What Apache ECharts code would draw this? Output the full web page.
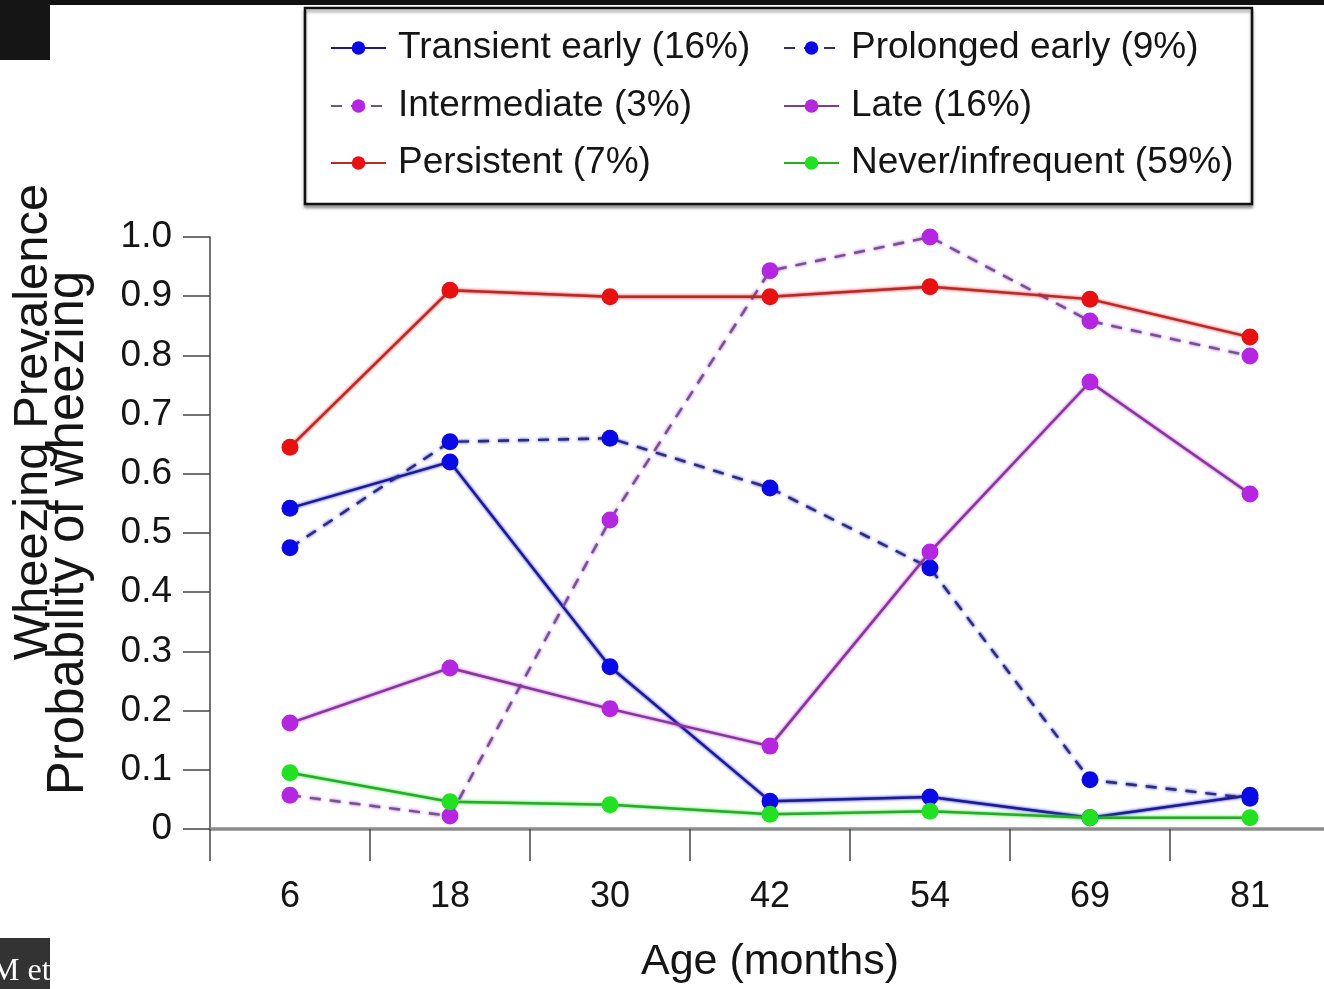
<!DOCTYPE html>
<html>
<head>
<meta charset="utf-8">
<title>Wheezing phenotypes by age</title>
<script src="https://cdn.jsdelivr.net/npm/echarts@6/dist/echarts.min.js"></script>
<style>
  html, body { margin: 0; padding: 0; background: #fff; overflow: hidden; }
  #chart { width: 1324px; height: 989px; }
</style>
</head>
<body>
<div id="chart"></div>
<script>
// Age at each survey (months)
const categories = ['6', '18', '30', '42', '54', '69', '81'];

// Probability of wheezing for each phenotype at each age
const transientEarly = [0.542, 0.620, 0.274, 0.047, 0.054, 0.019, 0.057];
const prolongedEarly = [0.475, 0.654, 0.660, 0.576, 0.441, 0.083, 0.052];
const intermediate   = [0.057, 0.022, 0.522, 0.943, 1.000, 0.858, 0.799];
const late           = [0.179, 0.272, 0.203, 0.140, 0.468, 0.755, 0.566];
const persistent     = [0.645, 0.910, 0.899, 0.899, 0.916, 0.895, 0.831];
const never          = [0.095, 0.046, 0.041, 0.025, 0.030, 0.019, 0.019];

const seriesNames = [
  'Transient early (16%)',
  'Prolonged early (9%)',
  'Intermediate (3%)',
  'Late (16%)',
  'Persistent (7%)',
  'Never/infrequent (59%)'
];

const SANS = "'Liberation Sans', Arial, Helvetica, sans-serif";

function makeSeries(name, data, lineColor, markColor, dashed) {
  return {
    name: name,
    type: 'line',
    data: data,
    clip: false,
    symbol: 'circle',
    symbolSize: 17,
    itemStyle: { color: markColor },
    lineStyle: {
      color: lineColor,
      width: 2.4,
      type: dashed ? [11, 9] : 'solid',
      shadowColor: markColor,
      shadowBlur: 3
    },
    emphasis: { disabled: true },
    animation: false
  };
}

// Legend laid out as two columns of three entries inside one framed box
const legendCols = [330, 783];
const legendRows = [26, 84, 141];
const legendSlots = [
  [0, 0], [1, 0],
  [0, 1], [1, 1],
  [0, 2], [1, 2]
];
const legends = seriesNames.map(function (name, i) {
  const slot = legendSlots[i];
  return {
    data: [name],
    left: legendCols[slot[0]],
    top: legendRows[slot[1]],
    padding: 0,
    itemWidth: 55,
    itemHeight: 17,
    z: 10,
    selectedMode: false,
    textStyle: {
      fontFamily: SANS,
      fontSize: 37,
      lineHeight: 44,
      color: '#151515',
      padding: [0, 0, 0, 7]
    }
  };
});

const chart = echarts.init(document.getElementById('chart'), null, { renderer: 'canvas' });

chart.setOption({
  backgroundColor: '#ffffff',
  animation: false,
  grid: {
    left: 210, top: 237, bottom: 160, right: -6,
    containLabel: false,
    outerBoundsMode: 'none'
  },
  legend: legends,
  xAxis: {
    type: 'category',
    data: categories,
    boundaryGap: true,
    name: 'Age (months)',
    nameLocation: 'middle',
    nameGap: 112,
    nameTextStyle: { fontFamily: SANS, fontSize: 43, color: '#151515' },
    axisLine: { show: true, lineStyle: { color: '#8c8c8c', width: 3.5 } },
    axisTick: { show: true, length: 32, inside: false, lineStyle: { color: '#444', width: 1.5 } },
    axisLabel: { fontFamily: SANS, fontSize: 36, color: '#151515', margin: 50 },
    splitLine: { show: false }
  },
  yAxis: {
    type: 'value',
    min: 0,
    max: 1,
    interval: 0.1,
    name: 'Probability of wheezing',
    nameLocation: 'middle',
    nameRotate: 90,
    nameGap: 116,
    nameTextStyle: { fontFamily: SANS, fontSize: 51, color: '#151515' },
    axisLine: { show: true, lineStyle: { color: '#444', width: 1.5 } },
    axisTick: { show: true, length: 27, inside: false, lineStyle: { color: '#444', width: 1.5 } },
    axisLabel: {
      fontFamily: SANS,
      fontSize: 37,
      color: '#151515',
      margin: 38,
      formatter: function (v) { return v === 0 ? '0' : v.toFixed(1); }
    },
    splitLine: { show: false }
  },
  graphic: [
    { type: 'rect', z: 0, shape: { x: 0, y: 0, width: 1324, height: 5 }, style: { fill: '#111' } },
    { type: 'rect', z: 0, shape: { x: 0, y: 0, width: 50, height: 60 }, style: { fill: '#151515' } },
    { type: 'rect', z: 0, shape: { x: 0, y: 938, width: 50, height: 51 }, style: { fill: '#333' } },
    {
      type: 'text', z: 1, x: -9, y: 972,
      style: { text: 'M et', fill: '#fff', font: "32px 'Liberation Serif', serif", verticalAlign: 'middle' }
    },
    {
      type: 'rect', z: 1,
      shape: { x: 305, y: 8, width: 947, height: 196 },
      style: {
        fill: '#fff', stroke: '#111', lineWidth: 2.5,
        shadowColor: 'rgba(0,0,0,0.35)', shadowBlur: 3, shadowOffsetY: 3
      }
    },
    {
      type: 'text', z: 1, x: 33, y: 422, rotation: Math.PI / 2,
      style: {
        text: 'Wheezing Prevalence', fill: '#151515',
        font: "49px 'Liberation Sans', Arial, sans-serif",
        align: 'center', verticalAlign: 'middle'
      }
    }
  ],
  series: [
    makeSeries(seriesNames[0], transientEarly, '#1c1c8a', '#0a0ae6', false),
    makeSeries(seriesNames[1], prolongedEarly, '#2e2e6e', '#0a0ae6', true),
    makeSeries(seriesNames[2], intermediate, '#6b5a86', '#b526e0', true),
    makeSeries(seriesNames[3], late, '#823a92', '#b526e0', false),
    makeSeries(seriesNames[4], persistent, '#b82a2a', '#e81010', false),
    makeSeries(seriesNames[5], never, '#2aaa2a', '#22e022', false)
  ]
});
</script>
</body>
</html>
